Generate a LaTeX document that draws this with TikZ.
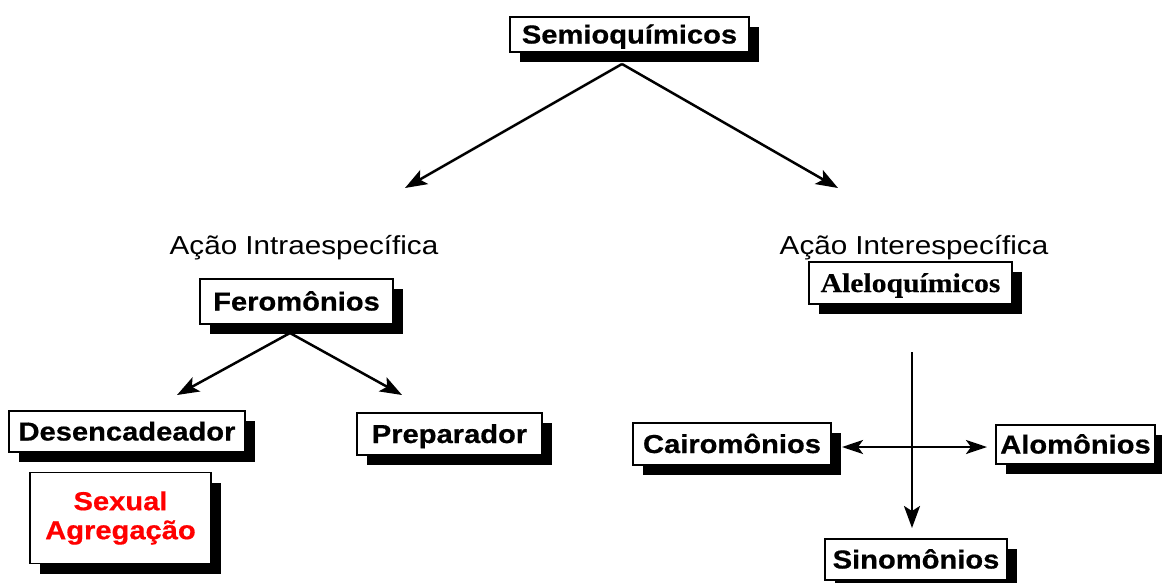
\documentclass[tikz,border=0pt]{standalone}
\usepackage{fontspec}
\setmainfont{Liberation Sans}
\newfontfamily\boxfont{Liberation Sans}[FakeStretch=1.12,FakeBold=0.6]
\newfontfamily\serifboxfont{Liberation Serif}[FakeStretch=1.1,FakeBold=0.4]
\newfontfamily\labelfont{Liberation Sans}[FakeStretch=1.14]
\usetikzlibrary{arrows.meta,shadows}
\begin{document}
\begin{tikzpicture}[x=1pt,y=-1pt,
  box/.style={draw=black, line width=1.8pt, fill=white, inner sep=0pt,
    text height=18pt, text depth=0pt,
    font=\boxfont\bfseries\fontsize{26}{29}\selectfont,
    drop shadow={shadow xshift=10pt, shadow yshift=-10pt, fill=black, fill opacity=1, opacity=1}},
  lab/.style={inner sep=0pt, anchor=base, font=\labelfont\fontsize{26}{30}\selectfont},
  conn/.style={line width=2.5pt, -{Stealth[length=22pt,width=16pt,inset=5pt]}},
  dconn/.style={line width=2.5pt, {Stealth[length=21pt,width=14pt,inset=5pt]}-{Stealth[length=21pt,width=14pt,inset=5pt]}}
]
\useasboundingbox (0,0) rectangle (1162,582);
\clip (0,0) rectangle (1162,582);

% boxes
\node[box, minimum width=239pt, minimum height=35pt] (semio) at (629.5,34.5) {Semioquímicos};
\node[box, minimum width=193pt, minimum height=45pt] (fero) at (296.5,301.5) {Feromônios};
\node[box, minimum width=203pt, minimum height=42pt, font=\serifboxfont\bfseries\fontsize{27}{30}\selectfont, text height=18pt] (alelo) at (910.5,283) {Aleloquímicos};
\node[box, minimum width=236pt, minimum height=41pt] (desen) at (127,431.5) {Desencadeador};
\node[box, minimum width=181pt, minimum height=91pt, text height=, text depth=, align=center, text=red] (sexual) at (120.5,518) {Sexual\\Agregação};
\node[box, minimum width=185pt, minimum height=42pt] (prep) at (449.5,434) {Preparador};
\node[box, minimum width=198pt, minimum height=42pt] (cairo) at (732,444) {Cairomônios};
\node[box, minimum width=159pt, minimum height=39pt] (alo) at (1075.5,444.5) {Alomônios};
\node[box, minimum width=182pt, minimum height=41pt] (sino) at (916,559.5) {Sinomônios};

% labels
\node[lab] (intra) at (304,254) {Ação Intraespecífica};
\node[lab] (inter) at (914,254) {Ação Interespecífica};

% connector points
\coordinate (sapex) at (622,64);
\coordinate (sleft) at (405,188);
\coordinate (sright) at (838,188);
\coordinate (fapex) at (290,333);
\coordinate (fleft) at (177,395);
\coordinate (fright) at (402,395);
\coordinate (vtop) at (912,352);
\coordinate (vbot) at (912,528);
\coordinate (hleft) at (842,447);
\coordinate (hright) at (987,447);

\draw[conn] (sapex) -- (sleft);
\draw[conn] (sapex) -- (sright);
\draw[conn] (fapex) -- (fleft);
\draw[conn] (fapex) -- (fright);
\draw[conn] (vtop) -- (vbot);
\draw[dconn] (hleft) -- (hright);
\end{tikzpicture}
\end{document}
